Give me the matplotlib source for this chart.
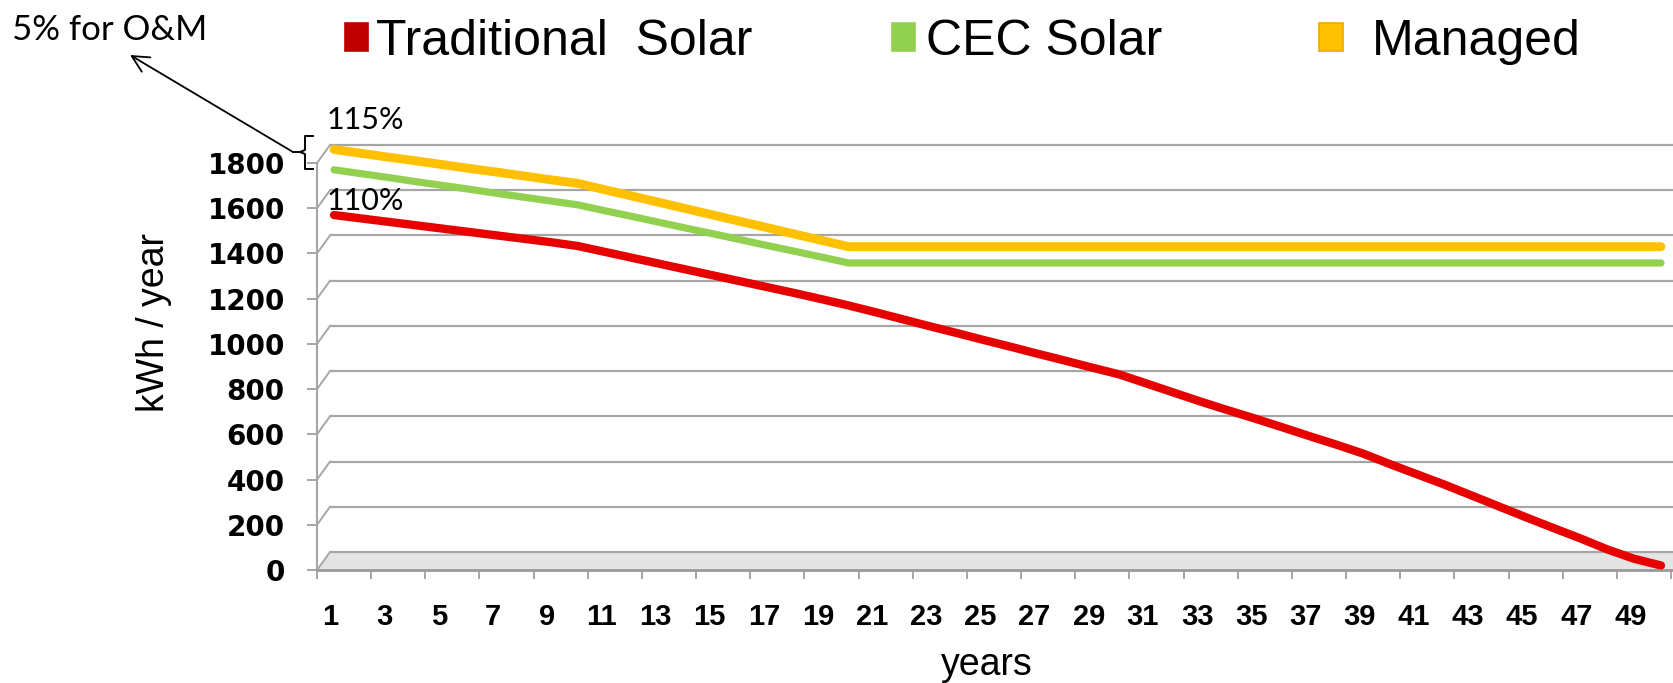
import matplotlib
matplotlib.use('Agg')
import matplotlib.pyplot as plt
from matplotlib.transforms import ScaledTranslation
from matplotlib.patches import Rectangle, Polygon
from matplotlib.lines import Line2D

# ---------------- data ----------------
years = list(range(1, 51))
traditional = [1550, 1535, 1520, 1505, 1490, 1475, 1460, 1445, 1430, 1413,
               1387, 1361, 1335, 1309, 1283, 1257, 1231, 1205, 1178, 1150,
               1120, 1089, 1058, 1028, 997, 967, 936, 906, 875, 845,
               805, 765, 725, 687, 650, 612, 573, 535, 495, 448,
               403, 358, 310, 262, 214, 167, 121, 72, 30, 0]
cec = [1750, 1733, 1716, 1698, 1681, 1664, 1646, 1629, 1612, 1595,
       1569, 1544, 1518, 1492, 1467, 1441, 1415, 1390, 1364, 1338,
       1338, 1338, 1338, 1338, 1338, 1338, 1338, 1338, 1338, 1338,
       1338, 1338, 1338, 1338, 1338, 1338, 1338, 1338, 1338, 1338,
       1338, 1338, 1338, 1338, 1338, 1338, 1338, 1338, 1338, 1338]
managed = [1840, 1823, 1806, 1790, 1773, 1756, 1740, 1723, 1706, 1690,
           1662, 1634, 1606, 1578, 1550, 1522, 1494, 1466, 1438, 1410,
           1410, 1410, 1410, 1410, 1410, 1410, 1410, 1410, 1410, 1410,
           1410, 1410, 1410, 1410, 1410, 1410, 1410, 1410, 1410, 1410,
           1410, 1410, 1410, 1410, 1410, 1410, 1410, 1410, 1410, 1410]
series_names = ['Traditional  Solar', 'CEC Solar', 'Managed']
y_ticks = [0, 200, 400, 600, 800, 1000, 1200, 1400, 1600, 1800]
x_label_years = list(range(1, 50, 2))

line_colors = ['#e60000', '#92d050', '#ffc000']
legend_colors = ['#c00000', '#92d050', '#ffc000']
legend_edges = ['#c00000', '#92d050', '#f0a800']
grid_color = '#a6a6a6'

# ---------------- figure ----------------
W, H = 1673, 683
fig = plt.figure(figsize=(W / 100, H / 100), dpi=100)


def fx(px):
    return px / W


def fy(py):
    return 1 - py / H


ax = fig.add_axes([fx(317), fy(570), (1671 - 317) / W, (570 - 163) / H])
ax.set_xlim(0.5, 50.5)
ax.set_ylim(0, 1800)
ax.patch.set_alpha(0)

# depth of the pseudo-3D walls (in data units)
DX = 13 / (1354 / 50)
DY = 18 / (407 / 1800)

# floor
floor = Polygon([(0.5, 0), (53, 0), (53, DY), (0.5 + DX, DY)], closed=True,
                facecolor='#e4e4e4', edgecolor='none', clip_on=False, zorder=0)
ax.add_patch(floor)

# back wall gridlines and side wall diagonals
for v in y_ticks:
    ax.plot([0.5 + DX, 53], [v + DY, v + DY], color=grid_color, lw=1.6,
            clip_on=False, zorder=1, solid_capstyle='butt')
    ax.plot([0.5, 0.5 + DX], [v, v + DY], color=grid_color, lw=1.4,
            clip_on=False, zorder=1)

# series lines, drawn a little behind the front plane
off = ax.transData + ScaledTranslation(3.5 / 100, 4.5 / 100, fig.dpi_scale_trans)
for vals, col, lw in zip([traditional, cec, managed], line_colors, [6.0, 5.2, 6.4]):
    ax.plot(years, vals, color=col, lw=lw, transform=off, clip_on=False,
            zorder=3, solid_capstyle='round', solid_joinstyle='round')

# axes styling
for s in ['top', 'right']:
    ax.spines[s].set_visible(False)
ax.spines['left'].set_color(grid_color)
ax.spines['left'].set_linewidth(1.5)
ax.spines['bottom'].set_color('#999999')
ax.spines['bottom'].set_linewidth(2.0)
ax.spines['bottom'].set_bounds(0.5, 53)

ax.set_yticks(y_ticks)
ax.set_yticklabels([str(v) for v in y_ticks], fontsize=20, fontweight='bold',
                   family='DejaVu Sans')
ax.tick_params(axis='y', length=7.2, width=1.4, color=grid_color, pad=16)

ax.set_xticks(x_label_years)
ax.set_xticklabels([str(v) for v in x_label_years], fontsize=21, fontweight='bold',
                   family='Liberation Sans')
ax.set_xticks([0.5 + 2 * i for i in range(26)], minor=True)
ax.tick_params(axis='x', which='major', length=0, pad=24)
ax.tick_params(axis='x', which='minor', length=6.5, width=1.4, color=grid_color)

# axis titles
fig.text(fx(154), fy(323), 'kWh / year', rotation=90, ha='center', va='center',
         fontsize=27, family='Liberation Sans')
fig.text(fx(987), fy(675), 'years', ha='center', va='baseline',
         fontsize=27, family='Liberation Sans')

# legend
sq = [(345, 23, 23, 28), (892, 23, 23, 28), (1319, 23, 24, 28)]
txt_x = [376, 926, 1372]
for (x0, y0, w, h), fc, ec, name, tx in zip(sq, legend_colors, legend_edges,
                                            series_names, txt_x):
    fig.patches.append(Rectangle((fx(x0), fy(y0 + h)), w / W, h / H,
                                 transform=fig.transFigure, facecolor=fc,
                                 edgecolor=ec, lw=1.2))
    fig.text(fx(tx), fy(55), name, ha='left', va='baseline', fontsize=36,
             family='Liberation Sans')

# annotations
fig.text(fx(12), fy(40), '5% for O&M', ha='left', va='baseline', fontsize=25,
         family='Lato')
fig.text(fx(327), fy(120), '115%', ha='left', va='center', fontsize=22,
         family='Lato')
fig.text(fx(327), fy(201), '110%', ha='left', va='center', fontsize=22,
         family='Lato')

bx = [313, 305, 305, 300, 305, 305, 313]
by = [136, 136, 150, 152, 154, 169, 169]
fig.add_artist(Line2D([fx(x) for x in bx], [fy(y) for y in by],
                      transform=fig.transFigure, color='black', lw=1.4))
fig.add_artist(Line2D([fx(293), fx(300)], [fy(152), fy(152)],
                      transform=fig.transFigure, color='black', lw=1.4))
ax.annotate('', xy=(130, H - 55), xytext=(293, H - 152),
            xycoords='figure pixels', textcoords='figure pixels',
            arrowprops=dict(arrowstyle='->', lw=1.3, color='black',
                            mutation_scale=30, shrinkA=0, shrinkB=0))

fig.savefig('out.png', dpi=100)
